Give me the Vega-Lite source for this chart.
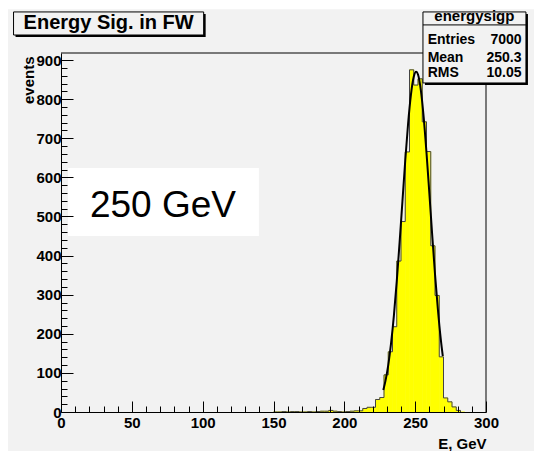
{
  "$schema": "https://vega.github.io/schema/vega-lite/v6.json",
  "width": 425,
  "height": 359,
  "autosize": {"type": "none"},
  "padding": {"left": 61, "top": 53, "right": 48, "bottom": 39},
  "background": "white",
  "config": {"view": {"stroke": null}, "font": "Liberation Sans"},
  "resolve": {"axis": {"x": "independent", "y": "independent"}},
  "datasets": {
    "hist": [
      {"lo": 150, "hi": 153, "count": 0}, {"lo": 153, "hi": 156, "count": 0},
      {"lo": 156, "hi": 159, "count": 1}, {"lo": 159, "hi": 162, "count": 0},
      {"lo": 162, "hi": 165, "count": 1}, {"lo": 165, "hi": 168, "count": 1},
      {"lo": 168, "hi": 171, "count": 0}, {"lo": 171, "hi": 174, "count": 0},
      {"lo": 174, "hi": 177, "count": 1}, {"lo": 177, "hi": 180, "count": 0},
      {"lo": 180, "hi": 183, "count": 1}, {"lo": 183, "hi": 186, "count": 2},
      {"lo": 186, "hi": 189, "count": 2}, {"lo": 189, "hi": 192, "count": 4},
      {"lo": 192, "hi": 195, "count": 2}, {"lo": 195, "hi": 198, "count": 1},
      {"lo": 198, "hi": 201, "count": 0}, {"lo": 201, "hi": 204, "count": 1},
      {"lo": 204, "hi": 207, "count": 2}, {"lo": 207, "hi": 210, "count": 3},
      {"lo": 210, "hi": 213, "count": 3}, {"lo": 213, "hi": 216, "count": 9},
      {"lo": 216, "hi": 219, "count": 12}, {"lo": 219, "hi": 222, "count": 12},
      {"lo": 222, "hi": 225, "count": 32}, {"lo": 225, "hi": 228, "count": 37},
      {"lo": 228, "hi": 231, "count": 95}, {"lo": 231, "hi": 234, "count": 154},
      {"lo": 234, "hi": 237, "count": 218}, {"lo": 237, "hi": 240, "count": 386},
      {"lo": 240, "hi": 243, "count": 487}, {"lo": 243, "hi": 246, "count": 665},
      {"lo": 246, "hi": 249, "count": 875}, {"lo": 249, "hi": 252, "count": 836},
      {"lo": 252, "hi": 255, "count": 852}, {"lo": 255, "hi": 258, "count": 742},
      {"lo": 258, "hi": 261, "count": 666}, {"lo": 261, "hi": 264, "count": 425},
      {"lo": 264, "hi": 267, "count": 298}, {"lo": 267, "hi": 270, "count": 141},
      {"lo": 270, "hi": 273, "count": 36}, {"lo": 273, "hi": 276, "count": 26},
      {"lo": 276, "hi": 279, "count": 13}, {"lo": 279, "hi": 282, "count": 4},
      {"lo": 282, "hi": 285, "count": 0}
    ],
    "fit": [
      {"E": 227.5, "f": 56}, {"E": 229, "f": 79}, {"E": 231, "f": 120},
      {"E": 233, "f": 176}, {"E": 235, "f": 247}, {"E": 237, "f": 334},
      {"E": 239, "f": 433}, {"E": 241, "f": 538}, {"E": 243, "f": 643},
      {"E": 245, "f": 737}, {"E": 247, "f": 811}, {"E": 249, "f": 857},
      {"E": 250.7, "f": 870}, {"E": 252, "f": 863}, {"E": 254, "f": 823},
      {"E": 256, "f": 754}, {"E": 258, "f": 663}, {"E": 260, "f": 560},
      {"E": 262, "f": 454}, {"E": 264, "f": 353}, {"E": 266, "f": 264},
      {"E": 268, "f": 189}, {"E": 269.5, "f": 143}
    ]
  },
  "layer": [
    {
      "data": {"values": [{}]},
      "mark": {"type": "rect", "fill": "#f2f2f2", "clip": false},
      "encoding": {
        "x": {"datum": -37.4, "type": "quantitative", "scale": {"domain": [0, 300], "nice": false, "zero": false}, "axis": null},
        "x2": {"datum": 334},
        "y": {"datum": 1030, "type": "quantitative", "scale": {"domain": [0, 918], "nice": false, "zero": false}, "axis": null},
        "y2": {"datum": -100}
      }
    },
    {
      "data": {"values": [{}]},
      "mark": {"type": "rect", "fill": "white", "clip": false},
      "encoding": {
        "x": {"datum": 4.9, "type": "quantitative", "scale": {"domain": [0, 300], "nice": false, "zero": false}, "axis": null},
        "x2": {"datum": 139.7},
        "y": {"datum": 624, "type": "quantitative", "scale": {"domain": [0, 918], "nice": false, "zero": false}, "axis": null},
        "y2": {"datum": 450}
      }
    },
    {
      "data": {"name": "hist"},
      "mark": {"type": "rect", "fill": "#ffff00", "stroke": "#ffff00", "strokeWidth": 0.6},
      "encoding": {
        "x": {
          "field": "lo", "type": "quantitative",
          "scale": {"domain": [0, 300], "nice": false, "zero": false},
          "axis": {
            "orient": "bottom",
            "values": [0, 10, 20, 30, 40, 50, 60, 70, 80, 90, 100, 110, 120, 130, 140, 150, 160, 170, 180, 190, 200, 210, 220, 230, 240, 250, 260, 270, 280, 290, 300],
            "labelExpr": "datum.value % 50 === 0 ? datum.label : ''",
            "format": "d",
            "tickSize": {"condition": {"test": "datum.value % 50 === 0", "value": -11}, "value": -6},
            "tickColor": "#000",
            "domainColor": "#000",
            "grid": false,
            "labelFont": "Liberation Sans",
            "labelFontWeight": "bold",
            "labelFontSize": 15,
            "labelColor": "#000",
            "labelPadding": 14,
            "labelFlush": false,
            "labelOverlap": false,
            "title": "E, GeV",
            "titleFont": "Liberation Sans",
            "titleFontWeight": "bold",
            "titleFontSize": 15,
            "titleColor": "#000",
            "titleAnchor": "end",
            "titleAlign": "right",
            "titleBaseline": "alphabetic",
            "titleX": 425,
            "titleY": 36,
            "zindex": 1
          }
        },
        "x2": {"field": "hi"},
        "y": {
          "field": "count", "type": "quantitative",
          "scale": {"domain": [0, 918], "nice": false, "zero": false},
          "axis": {
            "orient": "left",
            "values": [0, 20, 40, 60, 80, 100, 120, 140, 160, 180, 200, 220, 240, 260, 280, 300, 320, 340, 360, 380, 400, 420, 440, 460, 480, 500, 520, 540, 560, 580, 600, 620, 640, 660, 680, 700, 720, 740, 760, 780, 800, 820, 840, 860, 880, 900],
            "labelExpr": "datum.value % 100 === 0 ? datum.label : ''",
            "format": "d",
            "tickSize": {"condition": {"test": "datum.value % 100 === 0", "value": -12}, "value": -6},
            "tickColor": "#000",
            "domainColor": "#000",
            "grid": false,
            "labelFont": "Liberation Sans",
            "labelFontWeight": "bold",
            "labelFontSize": 15,
            "labelColor": "#000",
            "labelPadding": 12,
            "labelFlush": false,
            "labelOverlap": false,
            "title": "events",
            "titleFont": "Liberation Sans",
            "titleFontWeight": "bold",
            "titleFontSize": 15,
            "titleColor": "#000",
            "titleAngle": -90,
            "titleAnchor": "end",
            "titleAlign": "right",
            "titleBaseline": "alphabetic",
            "titleX": -28,
            "titleY": 3,
            "zindex": 1
          }
        },
        "y2": {"datum": 0}
      }
    },
    {
      "data": {"name": "hist"},
      "mark": {"type": "line", "interpolate": "step-after", "stroke": "#444", "strokeWidth": 1},
      "encoding": {
        "x": {"field": "lo", "type": "quantitative", "scale": {"domain": [0, 300], "nice": false, "zero": false}, "axis": null},
        "y": {"field": "count", "type": "quantitative", "scale": {"domain": [0, 918], "nice": false, "zero": false}, "axis": null}
      }
    },
    {
      "data": {"name": "fit"},
      "mark": {"type": "line", "interpolate": "monotone", "stroke": "#000", "strokeWidth": 2},
      "encoding": {
        "x": {"field": "E", "type": "quantitative", "scale": {"domain": [0, 300], "nice": false, "zero": false}, "axis": null},
        "y": {"field": "f", "type": "quantitative", "scale": {"domain": [0, 918], "nice": false, "zero": false}, "axis": null}
      }
    },
    {
      "data": {"values": [{}]},
      "mark": {"type": "rule", "stroke": "#000", "strokeWidth": 1, "clip": false},
      "encoding": {
        "x": {"datum": 0, "type": "quantitative", "scale": {"domain": [0, 300], "nice": false, "zero": false}, "axis": null},
        "x2": {"datum": 300},
        "y": {"datum": 918, "type": "quantitative", "scale": {"domain": [0, 918], "nice": false, "zero": false}, "axis": null}
      }
    },
    {
      "data": {"values": [{}]},
      "mark": {"type": "rule", "stroke": "#000", "strokeWidth": 1, "clip": false},
      "encoding": {
        "x": {"datum": 300, "type": "quantitative", "scale": {"domain": [0, 300], "nice": false, "zero": false}, "axis": null},
        "y": {"datum": 0, "type": "quantitative", "scale": {"domain": [0, 918], "nice": false, "zero": false}, "axis": null},
        "y2": {"datum": 918}
      }
    },
    {
      "data": {"values": [{}]},
      "mark": {"type": "rect", "fill": "#000", "clip": false, "xOffset": 2, "x2Offset": 2, "yOffset": 2, "y2Offset": 2},
      "encoding": {
        "x": {"datum": 255.5, "type": "quantitative", "scale": {"domain": [0, 300], "nice": false, "zero": false}, "axis": null},
        "x2": {"datum": 328.2},
        "y": {"datum": 1023, "type": "quantitative", "scale": {"domain": [0, 918], "nice": false, "zero": false}, "axis": null},
        "y2": {"datum": 841.4}
      }
    },
    {
      "data": {"values": [{}]},
      "mark": {"type": "rect", "fill": "#f2f2f2", "stroke": "#000", "strokeWidth": 1, "clip": false},
      "encoding": {
        "x": {"datum": 255.5, "type": "quantitative", "scale": {"domain": [0, 300], "nice": false, "zero": false}, "axis": null},
        "x2": {"datum": 328.2},
        "y": {"datum": 1023, "type": "quantitative", "scale": {"domain": [0, 918], "nice": false, "zero": false}, "axis": null},
        "y2": {"datum": 841.4}
      }
    },
    {
      "data": {"values": [{}]},
      "mark": {"type": "rule", "stroke": "#000", "strokeWidth": 1, "clip": false},
      "encoding": {
        "x": {"datum": 255.5, "type": "quantitative", "scale": {"domain": [0, 300], "nice": false, "zero": false}, "axis": null},
        "x2": {"datum": 328.2},
        "y": {"datum": 989.8, "type": "quantitative", "scale": {"domain": [0, 918], "nice": false, "zero": false}, "axis": null}
      }
    },
    {
      "data": {"values": [{"t": "energysigp"}]},
      "mark": {"type": "text", "font": "Liberation Sans", "fontWeight": "bold", "fontSize": 15, "align": "center", "baseline": "alphabetic", "color": "#000", "clip": false},
      "encoding": {
        "x": {"datum": 291.8, "type": "quantitative", "scale": {"domain": [0, 300], "nice": false, "zero": false}, "axis": null},
        "y": {"datum": 998.7, "type": "quantitative", "scale": {"domain": [0, 918], "nice": false, "zero": false}, "axis": null},
        "text": {"field": "t"}
      }
    },
    {
      "data": {"values": [{"t": "Entries"}]},
      "mark": {"type": "text", "font": "Liberation Sans", "fontWeight": "bold", "fontSize": 14, "align": "left", "baseline": "alphabetic", "color": "#000", "clip": false},
      "encoding": {
        "x": {"datum": 258.8, "type": "quantitative", "scale": {"domain": [0, 300], "nice": false, "zero": false}, "axis": null},
        "y": {"datum": 941, "type": "quantitative", "scale": {"domain": [0, 918], "nice": false, "zero": false}, "axis": null},
        "text": {"field": "t"}
      }
    },
    {
      "data": {"values": [{"t": "7000"}]},
      "mark": {"type": "text", "font": "Liberation Sans", "fontWeight": "bold", "fontSize": 14, "align": "right", "baseline": "alphabetic", "color": "#000", "clip": false},
      "encoding": {
        "x": {"datum": 325.1, "type": "quantitative", "scale": {"domain": [0, 300], "nice": false, "zero": false}, "axis": null},
        "y": {"datum": 941, "type": "quantitative", "scale": {"domain": [0, 918], "nice": false, "zero": false}, "axis": null},
        "text": {"field": "t"}
      }
    },
    {
      "data": {"values": [{"t": "Mean"}]},
      "mark": {"type": "text", "font": "Liberation Sans", "fontWeight": "bold", "fontSize": 14, "align": "left", "baseline": "alphabetic", "color": "#000", "clip": false},
      "encoding": {
        "x": {"datum": 258.8, "type": "quantitative", "scale": {"domain": [0, 300], "nice": false, "zero": false}, "axis": null},
        "y": {"datum": 893.8, "type": "quantitative", "scale": {"domain": [0, 918], "nice": false, "zero": false}, "axis": null},
        "text": {"field": "t"}
      }
    },
    {
      "data": {"values": [{"t": "250.3"}]},
      "mark": {"type": "text", "font": "Liberation Sans", "fontWeight": "bold", "fontSize": 14, "align": "right", "baseline": "alphabetic", "color": "#000", "clip": false},
      "encoding": {
        "x": {"datum": 325.1, "type": "quantitative", "scale": {"domain": [0, 300], "nice": false, "zero": false}, "axis": null},
        "y": {"datum": 893.8, "type": "quantitative", "scale": {"domain": [0, 918], "nice": false, "zero": false}, "axis": null},
        "text": {"field": "t"}
      }
    },
    {
      "data": {"values": [{"t": "RMS"}]},
      "mark": {"type": "text", "font": "Liberation Sans", "fontWeight": "bold", "fontSize": 14, "align": "left", "baseline": "alphabetic", "color": "#000", "clip": false},
      "encoding": {
        "x": {"datum": 258.8, "type": "quantitative", "scale": {"domain": [0, 300], "nice": false, "zero": false}, "axis": null},
        "y": {"datum": 855.4, "type": "quantitative", "scale": {"domain": [0, 918], "nice": false, "zero": false}, "axis": null},
        "text": {"field": "t"}
      }
    },
    {
      "data": {"values": [{"t": "10.05"}]},
      "mark": {"type": "text", "font": "Liberation Sans", "fontWeight": "bold", "fontSize": 14, "align": "right", "baseline": "alphabetic", "color": "#000", "clip": false},
      "encoding": {
        "x": {"datum": 325.1, "type": "quantitative", "scale": {"domain": [0, 300], "nice": false, "zero": false}, "axis": null},
        "y": {"datum": 855.4, "type": "quantitative", "scale": {"domain": [0, 918], "nice": false, "zero": false}, "axis": null},
        "text": {"field": "t"}
      }
    },
    {
      "data": {"values": [{}]},
      "mark": {"type": "rect", "fill": "#000", "clip": false, "xOffset": 2, "x2Offset": 2, "yOffset": 2, "y2Offset": 2},
      "encoding": {
        "x": {"datum": -33.5, "type": "quantitative", "scale": {"domain": [0, 300], "nice": false, "zero": false}, "axis": null},
        "x2": {"datum": 100.7},
        "y": {"datum": 1023, "type": "quantitative", "scale": {"domain": [0, 918], "nice": false, "zero": false}, "axis": null},
        "y2": {"datum": 964}
      }
    },
    {
      "data": {"values": [{}]},
      "mark": {"type": "rect", "fill": "#f2f2f2", "stroke": "#000", "strokeWidth": 1, "clip": false},
      "encoding": {
        "x": {"datum": -33.5, "type": "quantitative", "scale": {"domain": [0, 300], "nice": false, "zero": false}, "axis": null},
        "x2": {"datum": 100.7},
        "y": {"datum": 1023, "type": "quantitative", "scale": {"domain": [0, 918], "nice": false, "zero": false}, "axis": null},
        "y2": {"datum": 964}
      }
    },
    {
      "data": {"values": [{"t": "Energy Sig. in FW"}]},
      "mark": {"type": "text", "font": "Liberation Sans", "fontWeight": "bold", "fontSize": 20, "align": "center", "baseline": "alphabetic", "color": "#000", "clip": false},
      "encoding": {
        "x": {"datum": 33.6, "type": "quantitative", "scale": {"domain": [0, 300], "nice": false, "zero": false}, "axis": null},
        "y": {"datum": 980, "type": "quantitative", "scale": {"domain": [0, 918], "nice": false, "zero": false}, "axis": null},
        "text": {"field": "t"}
      }
    },
    {
      "data": {"values": [{"t": "250 GeV"}]},
      "mark": {"type": "text", "font": "Liberation Sans", "fontSize": 37, "align": "center", "baseline": "alphabetic", "color": "#000", "clip": false},
      "encoding": {
        "x": {"datum": 72, "type": "quantitative", "scale": {"domain": [0, 300], "nice": false, "zero": false}, "axis": null},
        "y": {"datum": 499.7, "type": "quantitative", "scale": {"domain": [0, 918], "nice": false, "zero": false}, "axis": null},
        "text": {"field": "t"}
      }
    }
  ]
}
